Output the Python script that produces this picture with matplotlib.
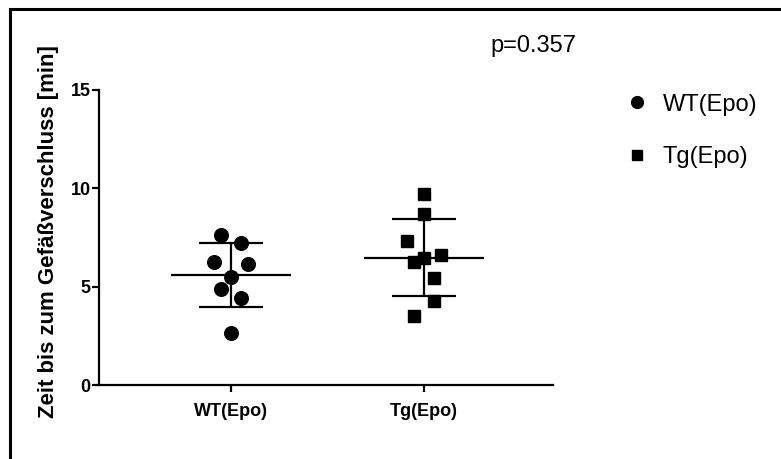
import numpy as np
import matplotlib.pyplot as plt
from matplotlib.lines import Line2D

plt.rcParams['font.family'] = ['Liberation Sans', 'DejaVu Sans']

groups = ['WT(Epo)', 'Tg(Epo)']
wt_vals = [7.63, 7.24, 6.27, 6.13, 5.48, 4.88, 4.44, 2.63]
tg_vals = [9.71, 8.68, 7.32, 6.61, 6.44, 6.27, 5.45, 4.27, 3.51]
wt_xoff = [-0.05, 0.05, -0.09, 0.09, 0.0, -0.05, 0.05, 0.0]
tg_xoff = [0.0, 0.0, -0.09, 0.09, 0.0, -0.05, 0.05, 0.05, -0.05]
p_text = 'p=0.357'

fig = plt.figure(figsize=(7.81, 4.59), dpi=100)
ax = fig.add_axes([99 / 781, 74 / 459, 454 / 781, 295 / 459])

# frame lines along the top and left edge of the figure
fig.add_artist(Line2D([10 / 781, 1.0], [1 - 9 / 459, 1 - 9 / 459], color='black', lw=2.2,
                      transform=fig.transFigure))
fig.add_artist(Line2D([10 / 781, 10 / 781], [0.0, 1 - 9 / 459], color='black', lw=2.2,
                      transform=fig.transFigure))

markers = ['o', 's']
sizes = [9.8, 8.8]
for i, (vals, offs) in enumerate([(wt_vals, wt_xoff), (tg_vals, tg_xoff)]):
    vals = np.array(vals)
    xs = i + np.array(offs)
    ax.plot(xs, vals, linestyle='none', marker=markers[i], ms=sizes[i], color='black', zorder=3)
    m = vals.mean()
    sd = vals.std(ddof=1)
    ax.hlines(m, i - 0.31, i + 0.31, color='black', lw=1.6, zorder=2)
    ax.hlines([m - sd, m + sd], i - 0.165, i + 0.165, color='black', lw=1.6, zorder=2)
    ax.vlines(i, m - sd, m + sd, color='black', lw=1.6, zorder=2)

ax.set_xlim(-0.684, 1.668)
ax.set_ylim(0, 15)
ax.set_yticks([0, 5, 10, 15])
ax.set_xticks([0, 1])
ax.set_xticklabels(groups)
for s in ['top', 'right']:
    ax.spines[s].set_visible(False)
for s in ['left', 'bottom']:
    ax.spines[s].set_linewidth(1.6)
ax.tick_params(axis='both', width=1.6, length=5, labelsize=13, pad=1)
ax.tick_params(axis='x', pad=8)
for lab in ax.get_xticklabels() + ax.get_yticklabels():
    lab.set_fontweight('bold')
ax.set_ylabel('Zeit bis zum Gefäßverschluss [min]', fontsize=16, fontweight='bold')
ax.yaxis.set_label_coords(-40 / 454, 0.52)

fig.text(490 / 781, 1 - 46 / 459, p_text, fontsize=17, va='center', ha='left')

handles = [Line2D([], [], linestyle='none', marker='o', ms=8.5, color='black'),
           Line2D([], [], linestyle='none', marker='s', ms=7.5, color='black')]
fig.legend(handles, groups, loc='upper left', bbox_to_anchor=(620 / 781, 1 - 89 / 459),
           frameon=False, fontsize=17, handlelength=1.0, handletextpad=0.6,
           labelspacing=1.3, borderaxespad=0, borderpad=0.2)

fig.savefig('out.png', dpi=100)
